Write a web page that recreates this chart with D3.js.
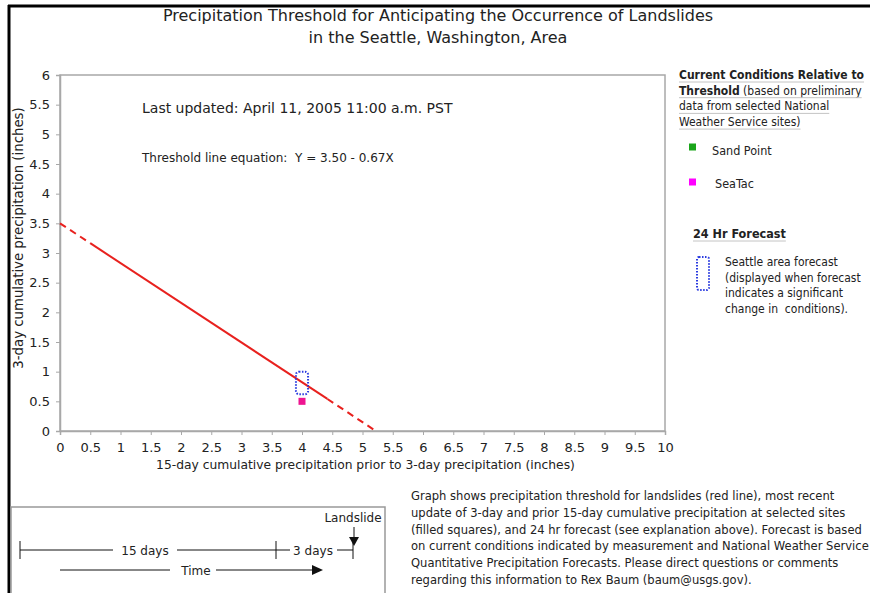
<!DOCTYPE html>
<html>
<head>
<meta charset="utf-8">
<script src="https://cdn.jsdelivr.net/npm/d3@7"></script>
<style>
  body { margin: 0; background: #fff; }
  text { font-family: "DejaVu Sans", Verdana, sans-serif; fill: #222; white-space: pre; }
  .cond { font-family: "DejaVu Sans Condensed", "DejaVu Sans", sans-serif; }
</style>
</head>
<body>
<div id="chart"></div>
<script>
// size of page and plot area
var width = 870;
var height = 593;
var margin = {left: 60, top: 75, right: 205, bottom: 162};
var plotW = width - margin.left - margin.right;   // 605
var plotH = height - margin.top - margin.bottom;  // 356

// ticks of both axes
var xTicks = [0, 0.5, 1, 1.5, 2, 2.5, 3, 3.5, 4, 4.5, 5, 5.5, 6, 6.5, 7, 7.5, 8, 8.5, 9, 9.5, 10];
var yTicks = [0, 0.5, 1, 1.5, 2, 2.5, 3, 3.5, 4, 4.5, 5, 5.5, 6];

// threshold line Y = 3.50 - 0.67X, solid where defined by data, dashed where extrapolated
var thresholdSolid = [[0.5, 3.165], [4.42, 0.54]];
var thresholdDashed = [[[0, 3.5], [0.5, 3.165]], [[4.42, 0.54], [5.22, 0]]];

// current conditions at NWS sites
var siteNames = ["Sand Point", "SeaTac"];
var siteColors = ["#1aa51a", "#ff00ff"];
var siteX = [null, 4.0];   // 15-day precip (Sand Point has no point plotted)
var siteY = [null, 0.5];   // 3-day precip

// 24 hr forecast box (x range, y range)
var forecastX = [3.9, 4.1];
var forecastY = [0.62, 1.0];

var titleLines = ["Precipitation Threshold for Anticipating the Occurrence of Landslides",
                  "in the Seattle, Washington, Area"];
var noteLines = ["Graph shows precipitation threshold for landslides (red line), most recent",
                 "update of 3-day and prior 15-day cumulative precipitation at selected sites",
                 "(filled squares), and 24 hr forecast (see explanation above). Forecast is based",
                 "on current conditions indicated by measurement and National Weather Service",
                 "Quantitative Precipitation Forecasts. Please direct questions or comments",
                 "regarding this information to Rex Baum (baum@usgs.gov)."];

const svg = d3.select("#chart")
  .append("svg")
  .attr("width", width)
  .attr("height", height);

// black frame at top and left
svg.append("line").attr("x1", 8).attr("x2", width).attr("y1", 6).attr("y2", 6)
  .attr("stroke", "#000").attr("stroke-width", 3);
svg.append("line").attr("x1", 9).attr("x2", 9).attr("y1", 5).attr("y2", height)
  .attr("stroke", "#000").attr("stroke-width", 3);

// title
svg.selectAll(".title")
  .data(titleLines)
  .enter()
  .append("text")
  .attr("class", "title")
  .attr("x", 438)
  .attr("y", (d, i) => 21 + i * 22)
  .attr("text-anchor", "middle")
  .style("font-size", "16px")
  .text(d => d);

var x = d3.scaleLinear().domain([0, 10]).range([0, plotW]);
var y = d3.scaleLinear().domain([0, 6]).range([plotH, 0]);

const g = svg.append("g").attr("transform", "translate(" + margin.left + "," + margin.top + ")");

// plot frame
g.append("rect").attr("width", plotW).attr("height", plotH)
  .attr("fill", "none").attr("stroke", "#a8a8a8").attr("stroke-width", 1.5);

// axes
var xAxis = g.append("g")
  .attr("transform", "translate(0," + plotH + ")")
  .call(d3.axisBottom(x).tickValues(xTicks).tickSize(4).tickPadding(8).tickFormat(d3.format("")));
var yAxis = g.append("g")
  .call(d3.axisLeft(y).tickValues(yTicks).tickSize(4).tickPadding(6).tickFormat(d3.format("")));
[xAxis, yAxis].forEach(function(a) {
  a.select(".domain").attr("stroke", "#a8a8a8").attr("stroke-width", 1.5);
  a.selectAll(".tick line").attr("stroke", "#a8a8a8");
  a.selectAll(".tick text").style("font-size", "13px").style("fill", "#222");
});

// axis titles
g.append("text")
  .attr("x", plotW / 2 + 3)
  .attr("y", plotH + 38)
  .attr("text-anchor", "middle")
  .style("font-size", "12.3px")
  .text("15-day cumulative precipitation prior to 3-day precipitation (inches)");
g.append("text")
  .attr("transform", "translate(" + (-37) + "," + (plotH / 2 - 15) + ") rotate(-90)")
  .attr("text-anchor", "middle")
  .style("font-size", "13.3px")
  .text("3-day cumulative precipitation (inches)");

// annotation texts inside plot
g.append("text").attr("x", 82).attr("y", 38)
  .style("font-size", "14px").text("Last updated: April 11, 2005 11:00 a.m. PST");
g.append("text").attr("x", 82).attr("y", 87)
  .style("font-size", "12px").text("Threshold line equation:  Y = 3.50 - 0.67X");

// threshold line
var line = d3.line().x(d => x(d[0])).y(d => y(d[1]));
g.append("path")
  .attr("d", line(thresholdSolid))
  .attr("fill", "none").attr("stroke", "#e8211e").attr("stroke-width", 2);
g.selectAll(".dashed")
  .data(thresholdDashed)
  .enter()
  .append("path")
  .attr("class", "dashed")
  .attr("d", line)
  .attr("fill", "none").attr("stroke", "#e8211e").attr("stroke-width", 2)
  .attr("stroke-dasharray", "7,5");

// site points
var sq = 7;
g.selectAll(".site")
  .data(siteNames.map((n, i) => ({name: n, x: siteX[i], y: siteY[i], c: siteColors[i]})).filter(d => d.x !== null))
  .enter()
  .append("rect")
  .attr("class", "site")
  .attr("x", d => x(d.x) - sq / 2)
  .attr("y", d => y(d.y) - sq / 2)
  .attr("width", sq).attr("height", sq)
  .attr("fill", "#ee1490");

// forecast box
g.append("rect")
  .attr("x", x(forecastX[0])).attr("y", y(forecastY[1]))
  .attr("width", x(forecastX[1]) - x(forecastX[0]))
  .attr("height", y(forecastY[0]) - y(forecastY[1]))
  .attr("rx", 3)
  .attr("fill", "none").attr("stroke", "#2a3be0").attr("stroke-width", 2)
  .attr("stroke-dasharray", "1.5,1.5");

// legend on the right
const lg = svg.append("g");
var legLines = [["Current Conditions Relative to", ""], ["Threshold", " (based on preliminary"],
                ["", "data from selected National"], ["", "Weather Service sites)"]];
legLines.forEach(function(l, i) {
  var t = lg.append("text").attr("class", "cond").attr("x", 679).attr("y", 79 + i * 15.7).style("font-size", "12px");
  t.append("tspan").style("font-weight", "bold").text(l[0]);
  t.append("tspan").text(l[1]);
  var w = t.node().getComputedTextLength();
  lg.append("line").attr("x1", 679).attr("x2", 679 + w).attr("y1", 82 + i * 15.7).attr("y2", 82 + i * 15.7)
    .attr("stroke", "#c4c4c4").attr("stroke-width", 1);
});

siteNames.forEach(function(n, i) {
  lg.append("rect").attr("x", 689).attr("y", 147 + i * 33 - 3.5 + (i ? 2 : 0))
    .attr("width", sq).attr("height", sq).attr("fill", siteColors[i]);
  lg.append("text").attr("class", "cond").attr("x", 712 + i * 3).attr("y", 155 + i * 33)
    .style("font-size", "12.5px").text(n);
});

var fcT = lg.append("text").attr("class", "cond").attr("x", 693).attr("y", 238)
  .style("font-size", "12.5px").style("font-weight", "bold").text("24 Hr Forecast");
lg.append("line").attr("x1", 693).attr("x2", 693 + fcT.node().getComputedTextLength())
  .attr("y1", 241).attr("y2", 241).attr("stroke", "#c4c4c4");
lg.append("rect").attr("x", 697).attr("y", 257).attr("width", 12).attr("height", 33).attr("rx", 2)
  .attr("fill", "none").attr("stroke", "#2a3be0").attr("stroke-width", 2).attr("stroke-dasharray", "1.5,1.5");
["Seattle area forecast", "(displayed when forecast", "indicates a significant", "change in  conditions)."]
  .forEach(function(s, i) {
    lg.append("text").attr("class", "cond").attr("x", 725).attr("y", 266 + i * 15.5)
      .style("font-size", "12px").text(s);
  });

// explanation paragraph
svg.selectAll(".note")
  .data(noteLines)
  .enter()
  .append("text")
  .attr("class", "note")
  .attr("x", 411)
  .attr("y", (d, i) => 500 + i * 16.8)
  .style("font-size", "11.55px")
  .text(d => d);

// time diagram box
const tb = svg.append("g");
tb.append("rect").attr("x", 11).attr("y", 507).attr("width", 374).attr("height", 100)
  .attr("fill", "none").attr("stroke", "#999").attr("stroke-width", 1.5);
var tl = 550;
function seg(x1, x2, yy) {
  tb.append("line").attr("x1", x1).attr("x2", x2).attr("y1", yy).attr("y2", yy).attr("stroke", "#111");
}
function vt(xx) {
  tb.append("line").attr("x1", xx).attr("x2", xx).attr("y1", tl - 9).attr("y2", tl + 9).attr("stroke", "#111");
}
seg(20, 113, tl); seg(177, 290, tl); seg(337, 353, tl);
vt(20); vt(276); vt(353);
tb.append("text").attr("x", 145).attr("y", tl + 5).attr("text-anchor", "middle").style("font-size", "12px").text("15 days");
tb.append("text").attr("x", 313).attr("y", tl + 5).attr("text-anchor", "middle").style("font-size", "12px").text("3 days");
seg(60, 170, 570); seg(216, 313, 570);
tb.append("path").attr("d", "M312,565 L323,570 L312,575 Z").attr("fill", "#111");
tb.append("text").attr("x", 196).attr("y", 575).attr("text-anchor", "middle").style("font-size", "12px").text("Time");
tb.append("text").attr("x", 353).attr("y", 522).attr("text-anchor", "middle").style("font-size", "12px").text("Landslide");
tb.append("line").attr("x1", 354).attr("x2", 354).attr("y1", 527).attr("y2", 538).attr("stroke", "#111");
tb.append("path").attr("d", "M349,537 L359,537 L354,546 Z").attr("fill", "#111");
</script>
</body>
</html>
